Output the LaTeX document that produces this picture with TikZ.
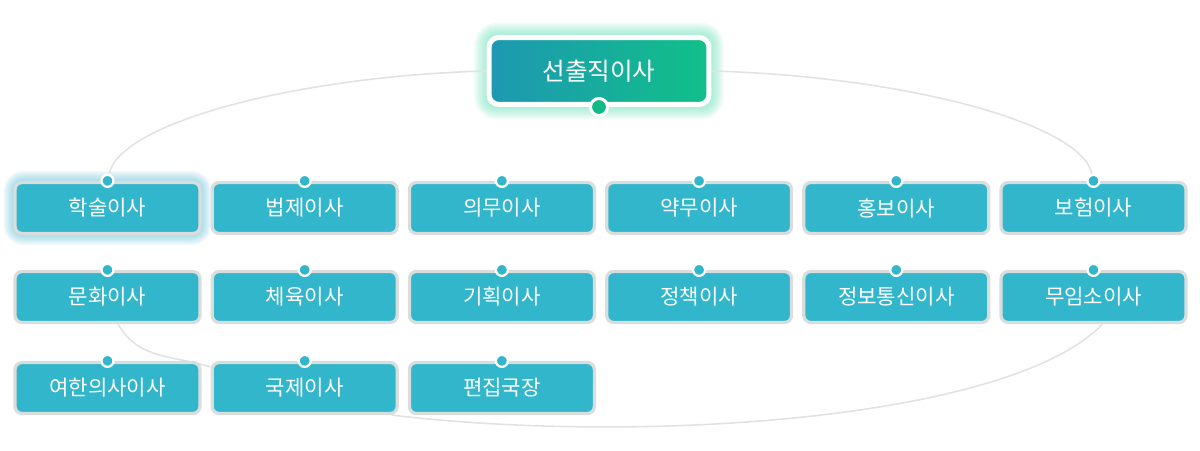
\documentclass[tikz,border=0pt]{standalone}
\usepackage{fontspec}
\setmainfont{Noto Sans CJK KR}
\usetikzlibrary{positioning, backgrounds}
\definecolor{boxcol}{HTML}{31B6CB}
\definecolor{rimcol}{HTML}{D9DDDD}
\definecolor{linkcol}{HTML}{E2E2E2}
\definecolor{topleft}{HTML}{1E98B2}
\definecolor{topright}{HTML}{10C088}
\definecolor{topdot}{HTML}{12B886}
\definecolor{glowgreen}{HTML}{5FDDB2}
\definecolor{glowblue}{HTML}{5FBDD6}

\begin{document}
\begin{tikzpicture}[x=0.02cm, y=0.02cm,
  member/.style={rectangle, rounded corners=0.14cm, minimum width=3.7cm,
                 minimum height=1.02cm, fill=boxcol, draw=rimcol,
                 line width=0.065cm, text=white,
                 font=\fontsize{12pt}{14pt}\selectfont},
  chief/.style={rectangle, rounded corners=0.2cm, minimum width=4.4cm,
                minimum height=1.34cm, left color=topleft, right color=topright,
                draw=white, line width=0.1cm, text=white,
                font=\fontsize{14pt}{16pt}\selectfont},
  halo/.style={draw=#1, opacity=0.09, rounded corners=0.2cm},
  dot/.style={circle, inner sep=0pt, minimum size=0.24cm, fill=boxcol,
              draw=white, line width=0.045cm},
  link/.style={draw=linkcol, line width=0.9pt}
]
\useasboundingbox (0,0) rectangle (1200,450);

% Top box
\node[chief] (seonchul) at (599,379) {선출직이사};
\node[dot, fill=topdot, minimum size=0.34cm, line width=0.06cm]
      (seonchul-dot) at (seonchul.south) {};

% Member boxes
\foreach \name/\txt [count=\i from 0] in {haksul/학술이사, beopje/법제이사,
    uimu/의무이사, yakmu/약무이사, hongbo/홍보이사, boheom/보험이사}
  \node[member] (\name) at (107.5+197.2*\i,242) {\txt};

\foreach \name/\txt [count=\i from 0] in {munhwa/문화이사, cheyuk/체육이사,
    gihoek/기획이사, jeongchaek/정책이사, jeongbo/정보통신이사, muimso/무임소이사}
  \node[member] (\name) at (107.5+197.2*\i,153) {\txt};

\foreach \name/\txt [count=\i from 0] in {yeohan/여한의사이사, gukje/국제이사,
    pyeonjip/편집국장}
  \node[member] (\name) at (107.5+197.2*\i,62) {\txt};

% Dots on top of each box
\foreach \name in {haksul, beopje, uimu, yakmu, hongbo, boheom,
    munhwa, cheyuk, gihoek, jeongchaek, jeongbo, muimso,
    yeohan, gukje, pyeonjip}
  \node[dot] (\name-dot) at (\name.north) {};

% Glows and links behind the boxes
\begin{scope}[on background layer]
  \foreach \w in {2,4,...,14} {
    \draw[halo=glowgreen, line width=\w pt]
         (seonchul.south west) rectangle (seonchul.north east);
    \draw[halo=glowblue, line width=0.8*\w pt]
         (haksul.south west) rectangle (haksul.north east);
  }
  \draw[link] (seonchul.west) .. controls +(-187,-5) and +(13,59) .. (haksul-dot);
  \draw[link] (seonchul.east) .. controls +(187,-5) and +(-13,59) .. (boheom-dot);
  \draw[link] ([xshift=6]munhwa.south) .. controls +(20,-35) and +(-40,12)
        .. ([yshift=12]gukje.west);
  \draw[link] ([xshift=-4]gukje.south east) .. controls +(253,-30) and +(-90,-95)
        .. ([xshift=5]muimso.south);
\end{scope}

\end{tikzpicture}
\end{document}
